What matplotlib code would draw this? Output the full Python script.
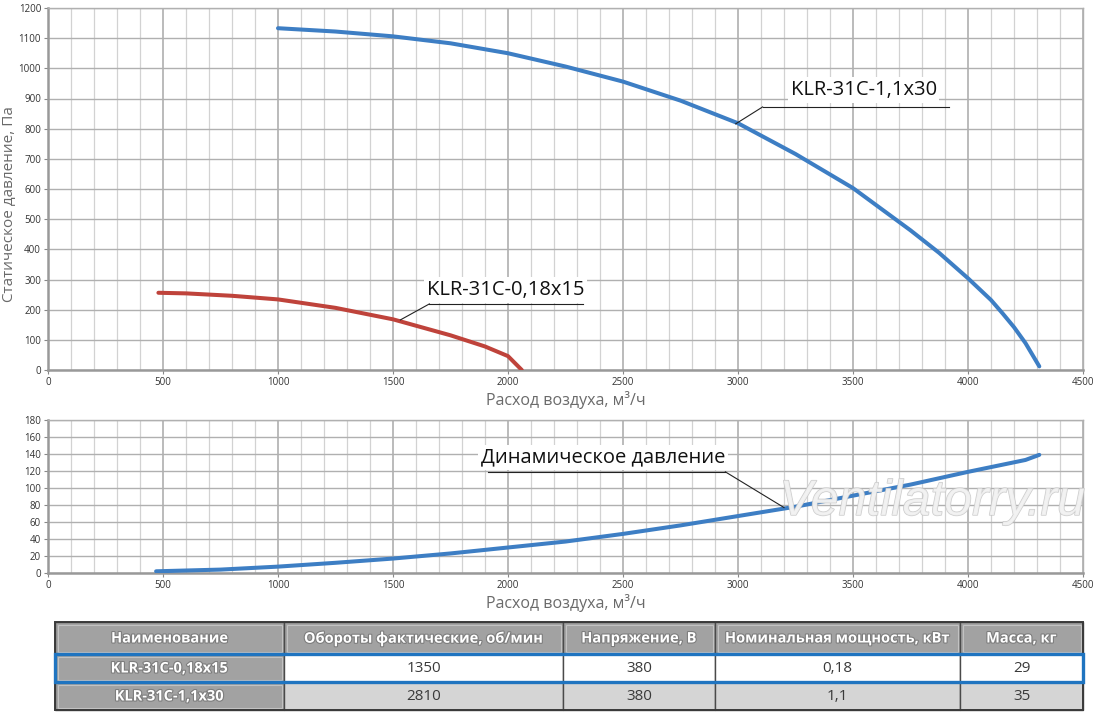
import matplotlib
matplotlib.use("Agg")
import matplotlib.pyplot as plt
import matplotlib.patheffects as pe
from matplotlib.patches import Rectangle
from matplotlib.ticker import MultipleLocator

# ---------------- data ----------------
blue_x = [1000, 1250, 1500, 1750, 2000, 2250, 2500, 2750, 3000, 3250, 3500, 3750, 3875, 4000, 4100, 4150, 4200, 4250, 4310]
blue_y = [1133, 1122, 1106, 1083, 1050, 1006, 956, 893, 818, 716, 603, 463, 388, 304, 232, 188, 142, 89, 12]

red_x = [480, 600, 800, 1000, 1250, 1500, 1750, 1900, 2000, 2060]
red_y = [256, 254, 246, 234, 206, 168, 115, 78, 46, 0]

dyn_x = [470, 750, 1000, 1250, 1500, 1750, 2000, 2250, 2500, 2750, 3000, 3250, 3500, 3750, 4000, 4250, 4310]
dyn_y = [2, 4, 7.5, 12, 17, 23, 30, 37, 46, 56, 67, 78, 91, 104, 119, 133, 139]

label_blue = "KLR-31C-1,1x30"
label_red = "KLR-31C-0,18x15"
label_dyn = "Динамическое давление"
xlabel = "Расход воздуха, м³/ч"
ylabel = "Статическое давление, Па"

table_header = ["Наименование", "Обороты фактические, об/мин", "Напряжение, В",
                "Номинальная мощность, кВт", "Масса, кг"]
table_rows = [["KLR-31C-0,18x15", "1350", "380", "0,18", "29"],
              ["KLR-31C-1,1x30", "2810", "380", "1,1", "35"]]

# ---------------- style ----------------
FONT = ["Open Sans", "DejaVu Sans"]
plt.rcParams['font.family'] = FONT
BLUE = "#3d7ec4"
RED = "#bf433b"
W, H = 1100, 718

fig = plt.figure(figsize=(W / 100, H / 100), dpi=100)
fig.patch.set_facecolor("white")


def px_axes(left, top, right, bottom):
    return fig.add_axes([left / W, 1 - bottom / H, (right - left) / W, (bottom - top) / H])


def style_axes(ax, ymax, ystep):
    ax.set_xlim(0, 4500)
    ax.set_ylim(0, ymax)
    ax.xaxis.set_major_locator(MultipleLocator(500))
    ax.xaxis.set_minor_locator(MultipleLocator(100))
    ax.yaxis.set_major_locator(MultipleLocator(ystep))
    ax.grid(which="minor", axis="x", color="#d2d2d2", lw=0.9, zorder=0)
    ax.grid(which="major", axis="x", color="#a8a8a8", lw=1.1, zorder=0)
    ax.grid(which="major", axis="y", color="#b0b0b0", lw=1.0, zorder=0)
    ax.set_axisbelow(True)
    for s in ["left", "bottom"]:
        ax.spines[s].set_color("#999999")
        ax.spines[s].set_linewidth(1.8)
    for s in ["top", "right"]:
        ax.spines[s].set_color("#b0b0b0")
        ax.spines[s].set_linewidth(1.0)
    ax.tick_params(axis="both", which="major", labelsize=7, colors="#888888",
                   labelcolor="#333333", length=3, width=0.8, pad=2)
    ax.tick_params(axis="both", which="minor", length=0)


# ---------------- top chart ----------------
ax1 = px_axes(48, 8, 1083, 370)
style_axes(ax1, 1200, 100)
ax1.plot(blue_x, blue_y, color=BLUE, lw=2.9, solid_capstyle="round", solid_joinstyle="round", zorder=3)
ax1.plot(red_x, red_y, color=RED, lw=2.9, solid_capstyle="round", solid_joinstyle="round", zorder=3)
ax1.set_ylabel(ylabel, fontsize=11, color="#6a6a6a")
ax1.yaxis.set_label_coords(-0.030, 0.459)
ax1.set_xlabel(xlabel, fontsize=11.5, color="#6a6a6a", labelpad=2)

# annotation blue
ax1.text(3546, 929, label_blue, fontsize=14.5, color="#111111", ha="center", va="center",
         bbox=dict(facecolor="white", edgecolor="none", pad=2), zorder=4)
ax1.plot([3107, 3916], [872, 872], color="#222222", lw=0.8, zorder=4)
ax1.plot([3107, 2990], [872, 816], color="#222222", lw=0.8, zorder=4)

# annotation red
ax1.text(1989, 265, label_red, fontsize=14.5, color="#111111", ha="center", va="center",
         bbox=dict(facecolor="white", edgecolor="none", pad=2), zorder=4)
ax1.plot([1658, 2324], [219, 219], color="#222222", lw=0.8, zorder=4)
ax1.plot([1658, 1532], [219, 166], color="#222222", lw=0.8, zorder=4)

# ---------------- bottom chart ----------------
ax2 = px_axes(48, 420, 1083, 573)
style_axes(ax2, 180, 20)
ax2.plot(dyn_x, dyn_y, color=BLUE, lw=2.9, solid_capstyle="round", solid_joinstyle="round", zorder=3)
ax2.set_xlabel(xlabel, fontsize=11.5, color="#6a6a6a", labelpad=2)

ax2.text(2413, 136, label_dyn, fontsize=14.5, color="#111111", ha="center", va="center",
         bbox=dict(facecolor="white", edgecolor="none", pad=2), zorder=4)
ax2.plot([1915, 2945], [119, 119], color="#222222", lw=0.8, zorder=4)
ax2.plot([2945, 3200], [119, 77], color="#222222", lw=0.8, zorder=4)

# watermark
fig.text(932 / W, 1 - 502 / H, "Ventilatorry.ru", fontsize=36, style="italic",
         family=["Liberation Sans", "DejaVu Sans"], color="#f2f2f2", alpha=0.85,
         ha="center", va="center", zorder=10,
         path_effects=[pe.withStroke(linewidth=1.0, foreground="#c4c4c4")])

# ---------------- table ----------------
tax = fig.add_axes([0, 0, 1, 1])
tax.set_xlim(0, W)
tax.set_ylim(H, 0)
tax.axis("off")

col_edges = [55, 284, 563, 715, 960, 1083]
row_edges = [622, 654, 682, 710]
HDR = "#a2a2a2"

for r in range(3):
    y0, y1 = row_edges[r], row_edges[r + 1]
    for c in range(5):
        x0, x1 = col_edges[c], col_edges[c + 1]
        if r == 0 or c == 0:
            fc = HDR
        elif r == 1:
            fc = "white"
        else:
            fc = "#d5d5d5"
        tax.add_patch(Rectangle((x0, y0), x1 - x0, y1 - y0, facecolor=fc,
                                edgecolor="#4a4a4a", lw=1.0, zorder=1))
        if r == 0 or c == 0:
            tax.add_patch(Rectangle((x0 + 2.5, y0 + 2.5), x1 - x0 - 5, y1 - y0 - 5,
                                    facecolor="none", edgecolor="#c2c2c2", lw=0.8, zorder=2))
        cx, cy = (x0 + x1) / 2, (y0 + y1) / 2
        if r == 0:
            txt = table_header[c]
        else:
            txt = table_rows[r - 1][c]
        if r == 0 or c == 0:
            tax.text(cx, cy + 0.5, txt, fontsize=10.5, fontweight="bold", color="white",
                     ha="center", va="center", zorder=3,
                     path_effects=[pe.withStroke(linewidth=1.6, foreground="#7d7d7d")])
        else:
            tax.text(cx, cy + 0.5, txt, fontsize=11, color="#3a3a3a",
                     ha="center", va="center", zorder=3)

# outer frame
tax.add_patch(Rectangle((col_edges[0], row_edges[0]), col_edges[-1] - col_edges[0],
                        row_edges[-1] - row_edges[0], facecolor="none",
                        edgecolor="#3a3a3a", lw=1.4, zorder=4))
# highlight
tax.add_patch(Rectangle((col_edges[0], row_edges[1]), col_edges[-1] - col_edges[0],
                        row_edges[2] - row_edges[1], facecolor="none",
                        edgecolor="#1f74c0", lw=2.4, zorder=5))

fig.savefig("out.png", dpi=100, facecolor="white")
